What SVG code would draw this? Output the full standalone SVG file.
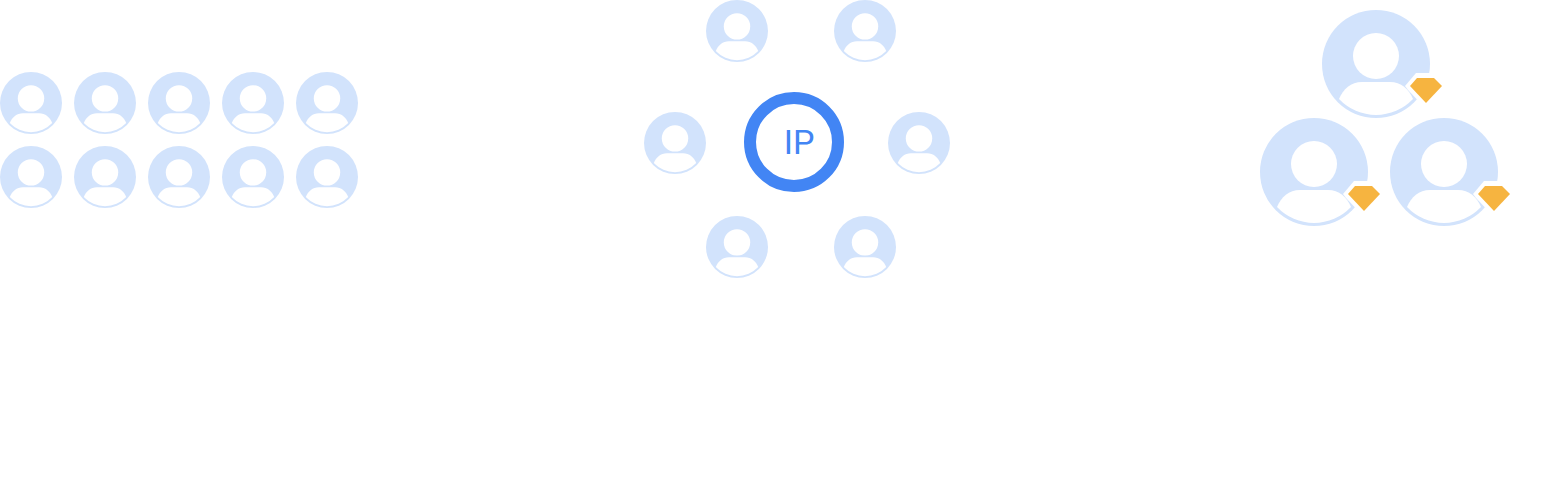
<svg xmlns="http://www.w3.org/2000/svg" width="1558" height="480" viewBox="0 0 1558 480">
<style>
.b{fill:#d2e3fc}.w{fill:#fff}.g{fill:#f6b440}
.t{font-family:Roboto,"Liberation Sans",sans-serif;font-weight:400;font-size:34px;fill:#4285f4;text-anchor:middle}
</style>
<defs>
<g id="u">
<circle class="b" r="54"/>
<circle class="w" cy="-8" r="23"/>
<path class="w" d="M-37 35C-33 25-25 18-14 18H14C25 18 33 25 37 35A51 51 0 0 1-37 35Z"/>
</g>
<g id="s"><use href="#u" transform="scale(.574)"/></g>
<g id="v">
<use href="#u"/>
<path class="w" d="M29 22L40 9H60V45H50L32 26Z"/>
<path class="g" d="M34 22L41 14H58L66 22L50 39Z"/>
</g>
</defs>
<g id="connectors"/>
<g id="left-users">
<g id="u1"><use href="#s" x="31" y="103"/></g>
<g id="u2"><use href="#s" x="105" y="103"/></g>
<g id="u3"><use href="#s" x="179" y="103"/></g>
<g id="u4"><use href="#s" x="253" y="103"/></g>
<g id="u5"><use href="#s" x="327" y="103"/></g>
<g id="u6"><use href="#s" x="31" y="177"/></g>
<g id="u7"><use href="#s" x="105" y="177"/></g>
<g id="u8"><use href="#s" x="179" y="177"/></g>
<g id="u9"><use href="#s" x="253" y="177"/></g>
<g id="u10"><use href="#s" x="327" y="177"/></g>
</g>
<g id="ip-node">
<circle cx="794" cy="142" r="44" fill="#fff" stroke="#4285f4" stroke-width="12"/>
<text class="t" x="799" y="154">IP</text>
</g>
<g id="ip-users">
<g id="r1"><use href="#s" x="737" y="31"/></g>
<g id="r2"><use href="#s" x="865" y="31"/></g>
<g id="r3"><use href="#s" x="675" y="143"/></g>
<g id="r4"><use href="#s" x="919" y="143"/></g>
<g id="r5"><use href="#s" x="737" y="247"/></g>
<g id="r6"><use href="#s" x="865" y="247"/></g>
</g>
<g id="vip-users">
<g id="v1"><use href="#v" x="1376" y="64"/></g>
<g id="v2"><use href="#v" x="1314" y="172"/></g>
<g id="v3"><use href="#v" x="1444" y="172"/></g>
</g>
</svg>
